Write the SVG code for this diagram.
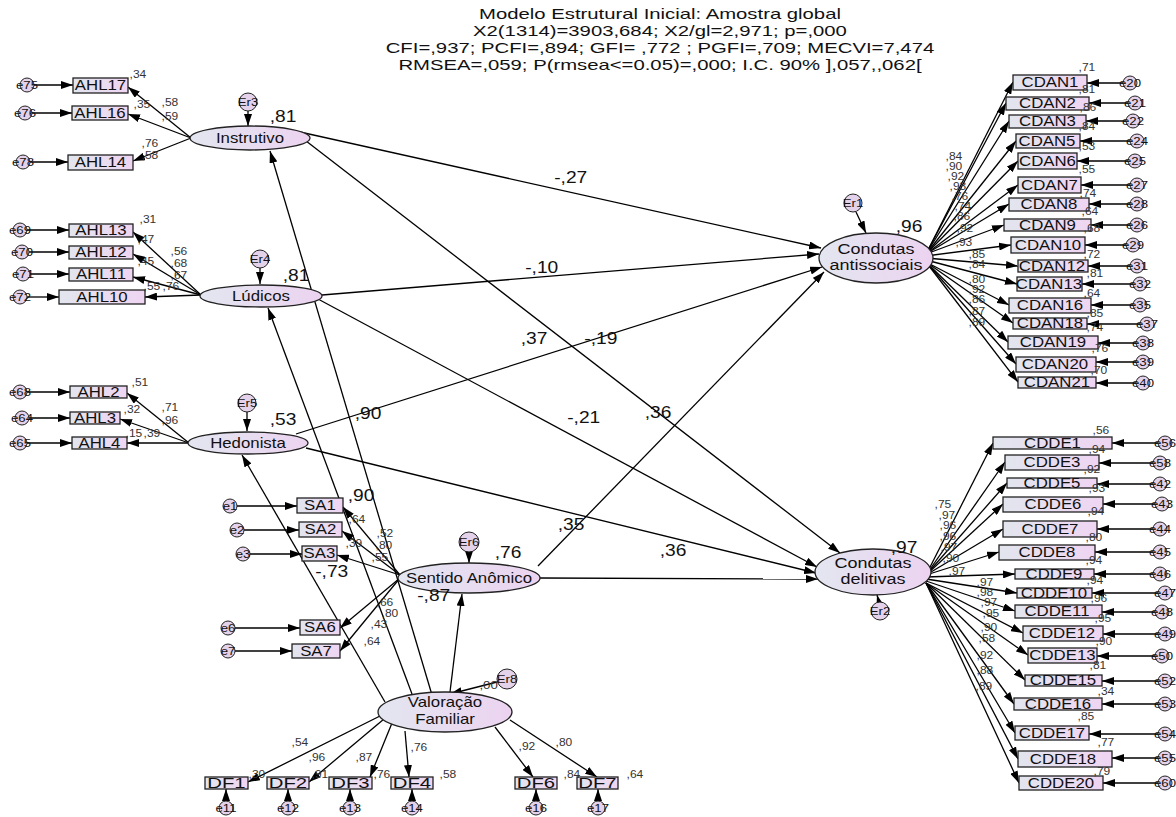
<svg xmlns="http://www.w3.org/2000/svg" width="1176" height="817" viewBox="0 0 1176 817">
<defs>
<linearGradient id="gb" x1="0" y1="0" x2="1" y2="0"><stop offset="0" stop-color="#e2e5ee"/><stop offset="1" stop-color="#efd5f2"/></linearGradient>
<linearGradient id="gl" x1="0" y1="0" x2="1" y2="0"><stop offset="0" stop-color="#e3e6f0"/><stop offset="1" stop-color="#ecd3f0"/></linearGradient>
<marker id="ah" markerUnits="userSpaceOnUse" markerWidth="12" markerHeight="8" refX="12" refY="4" orient="auto"><path d="M0,0 L12,4 L0,8 z" fill="#000"/></marker>
<style>
text{font-family:"Liberation Sans",Arial,sans-serif;fill:#111;transform-box:fill-box;transform-origin:center;transform:scaleX(1.2)}
.box{fill:url(#gb);stroke:#222;stroke-width:1.3}
.lat{fill:url(#gl);stroke:#222;stroke-width:1.3}
.err{fill:#e4d2ea;stroke:#222;stroke-width:1}
.ln{stroke:#000;stroke-width:1.3;fill:none;marker-end:url(#ah)}
.bt{font-size:14px;text-anchor:middle}
.df{font-size:14px;text-anchor:middle;transform:scaleX(1.45)}
.lt{font-size:14px;text-anchor:middle}
.lt15{font-size:15px;text-anchor:middle}
.et{font-size:11px;text-anchor:middle}
.ld{font-size:10px;fill:#333}
.cf{font-size:16px}
.ti{font-size:14.5px;text-anchor:middle;transform:scaleX(1.4)}
</style>
</defs>
<rect width="1176" height="817" fill="#fff"/>
<g id="title">
<text class="ti" x="660" y="19">Modelo Estrutural Inicial: Amostra global</text>
<text class="ti" x="660" y="36">X2(1314)=3903,684; X2/gl=2,971; p=,000</text>
<text class="ti" x="660" y="53">CFI=,937; PCFI=,894; GFI= ,772 ; PGFI=,709; MECVI=7,474</text>
<text class="ti" x="660" y="70">RMSEA=,059; P(rmsea&lt;=0.05)=,000; I.C. 90% ],057,,062[</text>
</g>
<g id="connectors">
<line class="ln" x1="34" y1="85" x2="73" y2="85"/>
<line class="ln" x1="32" y1="113" x2="72" y2="113"/>
<line class="ln" x1="30" y1="162" x2="68" y2="162"/>
<line class="ln" x1="27" y1="230" x2="69" y2="230"/>
<line class="ln" x1="29" y1="252" x2="69" y2="252"/>
<line class="ln" x1="30" y1="274" x2="69" y2="274"/>
<line class="ln" x1="27" y1="297" x2="59" y2="297"/>
<line class="ln" x1="27" y1="392" x2="70" y2="392"/>
<line class="ln" x1="29" y1="418" x2="70" y2="418"/>
<line class="ln" x1="27" y1="443" x2="72" y2="443"/>
<line class="ln" x1="191" y1="138" x2="128" y2="87"/>
<line class="ln" x1="191" y1="138" x2="128" y2="114"/>
<line class="ln" x1="191" y1="138" x2="133" y2="161"/>
<line class="ln" x1="201" y1="295" x2="133" y2="232"/>
<line class="ln" x1="201" y1="295" x2="133" y2="254"/>
<line class="ln" x1="201" y1="295" x2="133" y2="277"/>
<line class="ln" x1="201" y1="295" x2="145" y2="297"/>
<line class="ln" x1="189" y1="443" x2="127" y2="393"/>
<line class="ln" x1="189" y1="443" x2="120" y2="419"/>
<line class="ln" x1="189" y1="443" x2="127" y2="443"/>
<line class="ln" x1="248" y1="111" x2="248" y2="126"/>
<line class="ln" x1="260" y1="268" x2="260" y2="284"/>
<line class="ln" x1="247" y1="412" x2="247" y2="431"/>
<line class="ln" x1="469" y1="552" x2="469" y2="563"/>
<line class="ln" x1="856" y1="212" x2="866" y2="233"/>
<line class="ln" x1="879" y1="602" x2="877" y2="595"/>
<line class="ln" x1="497" y1="682" x2="450" y2="694"/>
<line class="ln" x1="300" y1="132" x2="821" y2="248"/>
<line class="ln" x1="297" y1="134" x2="840" y2="553"/>
<line class="ln" x1="322" y1="295" x2="819" y2="254"/>
<line class="ln" x1="318" y1="299" x2="817" y2="567"/>
<line class="ln" x1="296" y1="434" x2="822" y2="267"/>
<line class="ln" x1="306" y1="448" x2="816" y2="573"/>
<line class="ln" x1="540" y1="578" x2="818" y2="579"/>
<line class="ln" x1="538" y1="566" x2="824" y2="272"/>
<line class="ln" x1="432" y1="695" x2="270" y2="151"/>
<line class="ln" x1="412" y1="694" x2="268" y2="308"/>
<line class="ln" x1="385" y1="702" x2="242" y2="455"/>
<line class="ln" x1="450" y1="692" x2="462" y2="594"/>
<line class="ln" x1="400" y1="575" x2="343" y2="507"/>
<line class="ln" x1="400" y1="575" x2="342" y2="531"/>
<line class="ln" x1="400" y1="575" x2="337" y2="555"/>
<line class="ln" x1="400" y1="578" x2="340" y2="628"/>
<line class="ln" x1="400" y1="578" x2="340" y2="651"/>
<line class="ln" x1="237" y1="506" x2="297" y2="506"/>
<line class="ln" x1="244" y1="530" x2="299" y2="530"/>
<line class="ln" x1="250" y1="554" x2="302" y2="554"/>
<line class="ln" x1="235" y1="628" x2="300" y2="628"/>
<line class="ln" x1="235" y1="651" x2="292" y2="651"/>
<line class="ln" x1="380" y1="716" x2="248" y2="782"/>
<line class="ln" x1="384" y1="719" x2="309" y2="782"/>
<line class="ln" x1="392" y1="723" x2="370" y2="777"/>
<line class="ln" x1="405" y1="731" x2="409" y2="777"/>
<line class="ln" x1="495" y1="727" x2="533" y2="777"/>
<line class="ln" x1="510" y1="720" x2="597" y2="777"/>
<line class="ln" x1="226" y1="801" x2="226" y2="789"/>
<line class="ln" x1="288" y1="801" x2="288" y2="789"/>
<line class="ln" x1="350" y1="801" x2="350" y2="789"/>
<line class="ln" x1="412" y1="801" x2="412" y2="789"/>
<line class="ln" x1="536" y1="801" x2="536" y2="789"/>
<line class="ln" x1="598" y1="801" x2="598" y2="789"/>
<line class="ln" x1="926" y1="254" x2="1013" y2="82"/>
<line class="ln" x1="926" y1="254" x2="1006" y2="103"/>
<line class="ln" x1="926" y1="254" x2="1009" y2="121"/>
<line class="ln" x1="926" y1="254" x2="1016" y2="141"/>
<line class="ln" x1="926" y1="254" x2="1018" y2="161"/>
<line class="ln" x1="926" y1="254" x2="1018" y2="185"/>
<line class="ln" x1="926" y1="254" x2="1009" y2="204"/>
<line class="ln" x1="926" y1="254" x2="1004" y2="225"/>
<line class="ln" x1="926" y1="256" x2="1011" y2="245"/>
<line class="ln" x1="926" y1="258" x2="1018" y2="266"/>
<line class="ln" x1="926" y1="260" x2="1017" y2="284"/>
<line class="ln" x1="926" y1="262" x2="1009" y2="305"/>
<line class="ln" x1="926" y1="262" x2="1013" y2="323"/>
<line class="ln" x1="926" y1="262" x2="1008" y2="342"/>
<line class="ln" x1="926" y1="262" x2="1016" y2="364"/>
<line class="ln" x1="926" y1="262" x2="1018" y2="382"/>
<line class="ln" x1="1123" y1="83" x2="1087" y2="83"/>
<line class="ln" x1="1128" y1="103" x2="1089" y2="103"/>
<line class="ln" x1="1126" y1="121" x2="1086" y2="121"/>
<line class="ln" x1="1130" y1="141" x2="1080" y2="141"/>
<line class="ln" x1="1128" y1="161" x2="1077" y2="161"/>
<line class="ln" x1="1130" y1="185" x2="1081" y2="185"/>
<line class="ln" x1="1130" y1="204" x2="1089" y2="204"/>
<line class="ln" x1="1130" y1="225" x2="1091" y2="225"/>
<line class="ln" x1="1126" y1="245" x2="1085" y2="245"/>
<line class="ln" x1="1130" y1="266" x2="1088" y2="266"/>
<line class="ln" x1="1133" y1="284" x2="1082" y2="284"/>
<line class="ln" x1="1133" y1="305" x2="1091" y2="305"/>
<line class="ln" x1="1140" y1="324" x2="1087" y2="324"/>
<line class="ln" x1="1136" y1="343" x2="1098" y2="343"/>
<line class="ln" x1="1136" y1="362" x2="1096" y2="362"/>
<line class="ln" x1="1136" y1="383" x2="1096" y2="383"/>
<line class="ln" x1="926" y1="575" x2="993" y2="443"/>
<line class="ln" x1="926" y1="575" x2="1005" y2="462"/>
<line class="ln" x1="926" y1="575" x2="1007" y2="483"/>
<line class="ln" x1="926" y1="575" x2="1003" y2="504"/>
<line class="ln" x1="926" y1="575" x2="1003" y2="529"/>
<line class="ln" x1="926" y1="575" x2="999" y2="552"/>
<line class="ln" x1="926" y1="577" x2="1015" y2="574"/>
<line class="ln" x1="926" y1="579" x2="1017" y2="593"/>
<line class="ln" x1="926" y1="581" x2="1015" y2="611"/>
<line class="ln" x1="926" y1="583" x2="1023" y2="633"/>
<line class="ln" x1="926" y1="583" x2="1028" y2="655"/>
<line class="ln" x1="926" y1="583" x2="1025" y2="680"/>
<line class="ln" x1="926" y1="583" x2="1014" y2="704"/>
<line class="ln" x1="926" y1="583" x2="1015" y2="733"/>
<line class="ln" x1="926" y1="583" x2="1018" y2="759"/>
<line class="ln" x1="926" y1="583" x2="1019" y2="783"/>
<line class="ln" x1="1158" y1="443" x2="1112" y2="443"/>
<line class="ln" x1="1153" y1="463" x2="1099" y2="463"/>
<line class="ln" x1="1153" y1="484" x2="1097" y2="484"/>
<line class="ln" x1="1155" y1="504" x2="1103" y2="504"/>
<line class="ln" x1="1153" y1="529" x2="1097" y2="529"/>
<line class="ln" x1="1153" y1="552" x2="1095" y2="552"/>
<line class="ln" x1="1153" y1="574" x2="1094" y2="574"/>
<line class="ln" x1="1158" y1="593" x2="1092" y2="593"/>
<line class="ln" x1="1155" y1="612" x2="1102" y2="612"/>
<line class="ln" x1="1158" y1="634" x2="1103" y2="634"/>
<line class="ln" x1="1155" y1="656" x2="1097" y2="656"/>
<line class="ln" x1="1158" y1="681" x2="1102" y2="681"/>
<line class="ln" x1="1158" y1="704" x2="1102" y2="704"/>
<line class="ln" x1="1158" y1="734" x2="1089" y2="734"/>
<line class="ln" x1="1158" y1="758" x2="1112" y2="758"/>
<line class="ln" x1="1158" y1="783" x2="1103" y2="783"/>
</g>
<g id="Instrutivo"><ellipse class="lat" cx="250" cy="138" rx="60" ry="12"/><text class="lt" x="250" y="143">Instrutivo</text></g>
<g id="Ludicos"><ellipse class="lat" cx="261" cy="296" rx="61" ry="11"/><text class="lt" x="261" y="301">Lúdicos</text></g>
<g id="Hedonista"><ellipse class="lat" cx="248" cy="443" rx="60" ry="11"/><text class="lt" x="248" y="448">Hedonista</text></g>
<g id="SentidoAnomico"><ellipse class="lat" cx="469" cy="578" rx="71" ry="15"/><text class="lt" x="469" y="583">Sentido Anômico</text></g>
<g id="ValoracaoFamiliar"><ellipse class="lat" cx="445" cy="712" rx="67" ry="20"/><text class="lt" x="445" y="707">Valoração</text><text class="lt" x="445" y="724">Familiar</text></g>
<g id="CondutasAntissociais"><ellipse class="lat" cx="876" cy="258" rx="57" ry="25"/><text class="lt15" x="876" y="254">Condutas</text><text class="lt15" x="876" y="270">antissociais</text></g>
<g id="CondutasDelitivas"><ellipse class="lat" cx="873" cy="572" rx="58" ry="23"/><text class="lt15" x="873" y="568">Condutas</text><text class="lt15" x="873" y="584">delitivas</text></g>
<g id="Er3"><circle class="err" cx="248" cy="102" r="9"/><text class="et" x="248" y="106">Er3</text></g>
<g id="Er4"><circle class="err" cx="260" cy="259" r="9"/><text class="et" x="260" y="263">Er4</text></g>
<g id="Er5"><circle class="err" cx="247" cy="403" r="9"/><text class="et" x="247" y="407">Er5</text></g>
<g id="Er6"><circle class="err" cx="469" cy="542" r="10"/><text class="et" x="469" y="546">Er6</text></g>
<g id="Er1"><circle class="err" cx="853" cy="203" r="9"/><text class="et" x="853" y="207">Er1</text></g>
<g id="Er2"><circle class="err" cx="880" cy="611" r="9"/><text class="et" x="880" y="615">Er2</text></g>
<g id="Er8"><circle class="err" cx="507" cy="679" r="10"/><text class="et" x="507" y="683">Er8</text></g>
<g id="AHL17"><rect class="box" x="73" y="78" width="55" height="15"/><text class="bt" x="100.5" y="90">AHL17</text></g>
<g id="AHL16"><rect class="box" x="72" y="106" width="56" height="14"/><text class="bt" x="100" y="118">AHL16</text></g>
<g id="AHL14"><rect class="box" x="68" y="155" width="65" height="15"/><text class="bt" x="100.5" y="167">AHL14</text></g>
<g id="AHL13"><rect class="box" x="69" y="224" width="64" height="13"/><text class="bt" x="101" y="235">AHL13</text></g>
<g id="AHL12"><rect class="box" x="69" y="246" width="64" height="13"/><text class="bt" x="101" y="257">AHL12</text></g>
<g id="AHL11"><rect class="box" x="69" y="268" width="64" height="13"/><text class="bt" x="101" y="279">AHL11</text></g>
<g id="AHL10"><rect class="box" x="59" y="290" width="86" height="14"/><text class="bt" x="102" y="302">AHL10</text></g>
<g id="AHL2"><rect class="box" x="70" y="386" width="57" height="12"/><text class="bt" x="98.5" y="397">AHL2</text></g>
<g id="AHL3"><rect class="box" x="70" y="412" width="50" height="12"/><text class="bt" x="95" y="423">AHL3</text></g>
<g id="AHL4"><rect class="box" x="72" y="437" width="55" height="12"/><text class="bt" x="99.5" y="448">AHL4</text></g>
<g id="e75"><circle class="err" cx="27" cy="85" r="7"/><text class="et" x="27" y="89">e75</text></g>
<g id="e76"><circle class="err" cx="25" cy="113" r="7"/><text class="et" x="25" y="117">e76</text></g>
<g id="e78"><circle class="err" cx="23" cy="162" r="7"/><text class="et" x="23" y="166">e78</text></g>
<g id="e69"><circle class="err" cx="20" cy="230" r="7"/><text class="et" x="20" y="234">e69</text></g>
<g id="e70"><circle class="err" cx="22" cy="252" r="7"/><text class="et" x="22" y="256">e70</text></g>
<g id="e71"><circle class="err" cx="23" cy="274" r="7"/><text class="et" x="23" y="278">e71</text></g>
<g id="e72"><circle class="err" cx="20" cy="297" r="7"/><text class="et" x="20" y="301">e72</text></g>
<g id="e68"><circle class="err" cx="20" cy="392" r="7"/><text class="et" x="20" y="396">e68</text></g>
<g id="e64"><circle class="err" cx="22" cy="418" r="7"/><text class="et" x="22" y="422">e64</text></g>
<g id="e65"><circle class="err" cx="20" cy="443" r="7"/><text class="et" x="20" y="447">e65</text></g>
<g id="SA1"><rect class="box" x="297" y="498" width="46" height="15"/><text class="bt" x="320" y="510">SA1</text></g>
<g id="SA2"><rect class="box" x="299" y="522" width="43" height="15"/><text class="bt" x="320.5" y="534">SA2</text></g>
<g id="SA3"><rect class="box" x="302" y="546" width="35" height="15"/><text class="bt" x="319.5" y="558">SA3</text></g>
<g id="SA6"><rect class="box" x="300" y="620" width="40" height="15"/><text class="bt" x="320" y="632">SA6</text></g>
<g id="SA7"><rect class="box" x="292" y="644" width="48" height="14"/><text class="bt" x="316" y="656">SA7</text></g>
<g id="e1"><circle class="err" cx="230" cy="506" r="7"/><text class="et" x="230" y="510">e1</text></g>
<g id="e2"><circle class="err" cx="237" cy="530" r="7"/><text class="et" x="237" y="534">e2</text></g>
<g id="e3"><circle class="err" cx="243" cy="554" r="7"/><text class="et" x="243" y="558">e3</text></g>
<g id="e6"><circle class="err" cx="228" cy="628" r="7"/><text class="et" x="228" y="632">e6</text></g>
<g id="e7"><circle class="err" cx="228" cy="651" r="7"/><text class="et" x="228" y="655">e7</text></g>
<g id="DF1"><rect class="box" x="205" y="777" width="43" height="12"/><text class="df" x="226.5" y="788">DF1</text></g>
<g id="DF2"><rect class="box" x="267" y="777" width="42" height="12"/><text class="df" x="288" y="788">DF2</text></g>
<g id="DF3"><rect class="box" x="329" y="777" width="43" height="12"/><text class="df" x="350.5" y="788">DF3</text></g>
<g id="DF4"><rect class="box" x="391" y="777" width="42" height="12"/><text class="df" x="412" y="788">DF4</text></g>
<g id="DF6"><rect class="box" x="515" y="777" width="42" height="12"/><text class="df" x="536" y="788">DF6</text></g>
<g id="DF7"><rect class="box" x="577" y="777" width="41" height="12"/><text class="df" x="597.5" y="788">DF7</text></g>
<g id="e11"><circle class="err" cx="226" cy="808" r="7"/><text class="et" x="226" y="812">e11</text></g>
<g id="e12"><circle class="err" cx="288" cy="808" r="7"/><text class="et" x="288" y="812">e12</text></g>
<g id="e13"><circle class="err" cx="350" cy="808" r="7"/><text class="et" x="350" y="812">e13</text></g>
<g id="e14"><circle class="err" cx="412" cy="808" r="7"/><text class="et" x="412" y="812">e14</text></g>
<g id="e16"><circle class="err" cx="536" cy="808" r="7"/><text class="et" x="536" y="812">e16</text></g>
<g id="e17"><circle class="err" cx="598" cy="808" r="7"/><text class="et" x="598" y="812">e17</text></g>
<g id="CDAN1"><rect class="box" x="1013" y="75" width="74" height="15"/><text class="bt" x="1050" y="87">CDAN1</text></g>
<g id="CDAN2"><rect class="box" x="1006" y="97" width="83" height="13"/><text class="bt" x="1047.5" y="108">CDAN2</text></g>
<g id="CDAN3"><rect class="box" x="1009" y="115" width="77" height="13"/><text class="bt" x="1047.5" y="126">CDAN3</text></g>
<g id="CDAN5"><rect class="box" x="1016" y="134" width="64" height="14"/><text class="bt" x="1047" y="146">CDAN5</text></g>
<g id="CDAN6"><rect class="box" x="1018" y="153" width="59" height="16"/><text class="bt" x="1047.5" y="166">CDAN6</text></g>
<g id="CDAN7"><rect class="box" x="1018" y="177" width="63" height="16"/><text class="bt" x="1049.5" y="190">CDAN7</text></g>
<g id="CDAN8"><rect class="box" x="1009" y="198" width="80" height="13"/><text class="bt" x="1049" y="209">CDAN8</text></g>
<g id="CDAN9"><rect class="box" x="1004" y="219" width="87" height="12"/><text class="bt" x="1047.5" y="230">CDAN9</text></g>
<g id="CDAN10"><rect class="box" x="1011" y="237" width="74" height="16"/><text class="bt" x="1048" y="250">CDAN10</text></g>
<g id="CDAN12"><rect class="box" x="1018" y="260" width="70" height="12"/><text class="bt" x="1052" y="271">CDAN12</text></g>
<g id="CDAN13"><rect class="box" x="1017" y="277" width="65" height="14"/><text class="bt" x="1049" y="289">CDAN13</text></g>
<g id="CDAN16"><rect class="box" x="1009" y="298" width="82" height="15"/><text class="bt" x="1050" y="310">CDAN16</text></g>
<g id="CDAN18"><rect class="box" x="1013" y="318" width="74" height="11"/><text class="bt" x="1050" y="328">CDAN18</text></g>
<g id="CDAN19"><rect class="box" x="1008" y="336" width="90" height="13"/><text class="bt" x="1053" y="347">CDAN19</text></g>
<g id="CDAN20"><rect class="box" x="1016" y="357" width="80" height="15"/><text class="bt" x="1055" y="369">CDAN20</text></g>
<g id="CDAN21"><rect class="box" x="1018" y="377" width="78" height="11"/><text class="bt" x="1057" y="387">CDAN21</text></g>
<g id="e20"><circle class="err" cx="1130" cy="83" r="7"/><text class="et" x="1130" y="87">e20</text></g>
<g id="e21"><circle class="err" cx="1135" cy="103" r="7"/><text class="et" x="1135" y="107">e21</text></g>
<g id="e22"><circle class="err" cx="1133" cy="121" r="7"/><text class="et" x="1133" y="125">e22</text></g>
<g id="e24"><circle class="err" cx="1137" cy="141" r="7"/><text class="et" x="1137" y="145">e24</text></g>
<g id="e25"><circle class="err" cx="1135" cy="161" r="7"/><text class="et" x="1135" y="165">e25</text></g>
<g id="e27"><circle class="err" cx="1137" cy="185" r="7"/><text class="et" x="1137" y="189">e27</text></g>
<g id="e28"><circle class="err" cx="1137" cy="204" r="7"/><text class="et" x="1137" y="208">e28</text></g>
<g id="e26"><circle class="err" cx="1137" cy="225" r="7"/><text class="et" x="1137" y="229">e26</text></g>
<g id="e29"><circle class="err" cx="1133" cy="245" r="7"/><text class="et" x="1133" y="249">e29</text></g>
<g id="e31"><circle class="err" cx="1137" cy="266" r="7"/><text class="et" x="1137" y="270">e31</text></g>
<g id="e32"><circle class="err" cx="1140" cy="284" r="7"/><text class="et" x="1140" y="288">e32</text></g>
<g id="e35"><circle class="err" cx="1140" cy="305" r="7"/><text class="et" x="1140" y="309">e35</text></g>
<g id="e37"><circle class="err" cx="1147" cy="324" r="7"/><text class="et" x="1147" y="328">e37</text></g>
<g id="e38"><circle class="err" cx="1143" cy="343" r="7"/><text class="et" x="1143" y="347">e38</text></g>
<g id="e39"><circle class="err" cx="1143" cy="362" r="7"/><text class="et" x="1143" y="366">e39</text></g>
<g id="e40"><circle class="err" cx="1143" cy="383" r="7"/><text class="et" x="1143" y="387">e40</text></g>
<g id="CDDE1"><rect class="box" x="993" y="437" width="119" height="12"/><text class="bt" x="1052.5" y="448">CDDE1</text></g>
<g id="CDDE3"><rect class="box" x="1005" y="455" width="94" height="15"/><text class="bt" x="1052" y="467">CDDE3</text></g>
<g id="CDDE5"><rect class="box" x="1007" y="478" width="90" height="10"/><text class="bt" x="1052" y="488">CDDE5</text></g>
<g id="CDDE6"><rect class="box" x="1003" y="497" width="100" height="15"/><text class="bt" x="1053" y="509">CDDE6</text></g>
<g id="CDDE7"><rect class="box" x="1003" y="521" width="94" height="16"/><text class="bt" x="1050" y="534">CDDE7</text></g>
<g id="CDDE8"><rect class="box" x="999" y="545" width="96" height="15"/><text class="bt" x="1047" y="557">CDDE8</text></g>
<g id="CDDE9"><rect class="box" x="1015" y="569" width="79" height="10"/><text class="bt" x="1054" y="579">CDDE9</text></g>
<g id="CDDE10"><rect class="box" x="1017" y="588" width="75" height="10"/><text class="bt" x="1054" y="598">CDDE10</text></g>
<g id="CDDE11"><rect class="box" x="1015" y="605" width="87" height="13"/><text class="bt" x="1057" y="616">CDDE11</text></g>
<g id="CDDE12"><rect class="box" x="1023" y="626" width="80" height="15"/><text class="bt" x="1062" y="638">CDDE12</text></g>
<g id="CDDE13"><rect class="box" x="1028" y="648" width="69" height="15"/><text class="bt" x="1062.5" y="660">CDDE13</text></g>
<g id="CDDE15"><rect class="box" x="1025" y="675" width="77" height="11"/><text class="bt" x="1063" y="685">CDDE15</text></g>
<g id="CDDE16"><rect class="box" x="1014" y="698" width="88" height="12"/><text class="bt" x="1058" y="709">CDDE16</text></g>
<g id="CDDE17"><rect class="box" x="1015" y="726" width="74" height="14"/><text class="bt" x="1052" y="738">CDDE17</text></g>
<g id="CDDE18"><rect class="box" x="1018" y="751" width="94" height="16"/><text class="bt" x="1063" y="764">CDDE18</text></g>
<g id="CDDE20"><rect class="box" x="1019" y="776" width="84" height="14"/><text class="bt" x="1061" y="788">CDDE20</text></g>
<g id="e56"><circle class="err" cx="1165" cy="443" r="7"/><text class="et" x="1165" y="447">e56</text></g>
<g id="e58"><circle class="err" cx="1160" cy="463" r="7"/><text class="et" x="1160" y="467">e58</text></g>
<g id="e42"><circle class="err" cx="1160" cy="484" r="7"/><text class="et" x="1160" y="488">e42</text></g>
<g id="e43"><circle class="err" cx="1162" cy="504" r="7"/><text class="et" x="1162" y="508">e43</text></g>
<g id="e44"><circle class="err" cx="1160" cy="529" r="7"/><text class="et" x="1160" y="533">e44</text></g>
<g id="e45"><circle class="err" cx="1160" cy="552" r="7"/><text class="et" x="1160" y="556">e45</text></g>
<g id="e46"><circle class="err" cx="1160" cy="574" r="7"/><text class="et" x="1160" y="578">e46</text></g>
<g id="e47"><circle class="err" cx="1165" cy="593" r="7"/><text class="et" x="1165" y="597">e47</text></g>
<g id="e48"><circle class="err" cx="1162" cy="612" r="7"/><text class="et" x="1162" y="616">e48</text></g>
<g id="e49"><circle class="err" cx="1165" cy="634" r="7"/><text class="et" x="1165" y="638">e49</text></g>
<g id="e50"><circle class="err" cx="1162" cy="656" r="7"/><text class="et" x="1162" y="660">e50</text></g>
<g id="e52"><circle class="err" cx="1165" cy="681" r="7"/><text class="et" x="1165" y="685">e52</text></g>
<g id="e53"><circle class="err" cx="1165" cy="704" r="7"/><text class="et" x="1165" y="708">e53</text></g>
<g id="e54"><circle class="err" cx="1165" cy="734" r="7"/><text class="et" x="1165" y="738">e54</text></g>
<g id="e55"><circle class="err" cx="1165" cy="758" r="7"/><text class="et" x="1165" y="762">e55</text></g>
<g id="e60"><circle class="err" cx="1165" cy="783" r="7"/><text class="et" x="1165" y="787">e60</text></g>
<g id="coefficients">
<text class="cf" x="272" y="122">,81</text>
<text class="cf" x="285" y="281">,81</text>
<text class="cf" x="272" y="425">,53</text>
<text class="cf" x="497" y="558">,76</text>
<text class="cf" x="898" y="232">,96</text>
<text class="cf" x="893" y="553">,97</text>
<text class="cf" x="557" y="183">-,27</text>
<text class="cf" x="528" y="273">-,10</text>
<text class="cf" x="523" y="344">,37</text>
<text class="cf" x="587" y="344">-,19</text>
<text class="cf" x="357" y="419">,90</text>
<text class="cf" x="570" y="423">-,21</text>
<text class="cf" x="647" y="418">,36</text>
<text class="cf" x="560" y="530">,35</text>
<text class="cf" x="662" y="556">,36</text>
<text class="cf" x="350" y="501">,90</text>
<text class="cf" x="318" y="577">-,73</text>
<text class="cf" x="420" y="601">-,87</text>
<text class="ld" x="481" y="689" style="font-size:11px">,00</text>
</g>
<g id="loadings">
<text class="ld" x="131" y="78">,34</text><text class="ld" x="135" y="108">,35</text><text class="ld" x="163" y="106">,58</text><text class="ld" x="163" y="120">,59</text><text class="ld" x="143" y="147">,76</text><text class="ld" x="143" y="159">,58</text>
<text class="ld" x="141" y="223">,31</text><text class="ld" x="139" y="243">,47</text><text class="ld" x="172" y="255">,56</text><text class="ld" x="172" y="267">,68</text><text class="ld" x="139" y="265">,45</text><text class="ld" x="172" y="279">,67</text><text class="ld" x="145" y="290">,55</text><text class="ld" x="164" y="290">,76</text>
<text class="ld" x="133" y="386">,51</text><text class="ld" x="163" y="411">,71</text><text class="ld" x="125" y="413">,32</text><text class="ld" x="163" y="424">,96</text><text class="ld" x="127" y="437">,15</text><text class="ld" x="145" y="437">,39</text>
<text class="ld" x="350" y="523">,64</text><text class="ld" x="378" y="537">,52</text><text class="ld" x="347" y="547">,39</text><text class="ld" x="377" y="549">,80</text><text class="ld" x="373" y="561">,55</text>
<text class="ld" x="378" y="606">,66</text><text class="ld" x="383" y="617">,80</text><text class="ld" x="372" y="628">,43</text><text class="ld" x="365" y="645">,64</text>
<text class="ld" x="293" y="746">,54</text><text class="ld" x="310" y="761">,96</text><text class="ld" x="357" y="761">,87</text><text class="ld" x="412" y="751">,76</text><text class="ld" x="520" y="750">,92</text><text class="ld" x="557" y="746">,80</text>
<text class="ld" x="250" y="778">,30</text><text class="ld" x="313" y="778">,91</text><text class="ld" x="375" y="778">,76</text><text class="ld" x="441" y="778">,58</text><text class="ld" x="565" y="778">,84</text><text class="ld" x="628" y="778">,64</text>
<text class="ld" x="1080" y="71">,71</text><text class="ld" x="1080" y="93">,81</text><text class="ld" x="1081" y="111">,86</text><text class="ld" x="1080" y="130">,84</text><text class="ld" x="1080" y="150">,53</text><text class="ld" x="1080" y="173">,55</text><text class="ld" x="1081" y="197">,74</text><text class="ld" x="1083" y="215">,64</text><text class="ld" x="1085" y="232">,68</text><text class="ld" x="1085" y="258">,72</text><text class="ld" x="1088" y="277">,81</text><text class="ld" x="1085" y="297">,64</text><text class="ld" x="1088" y="317">,85</text><text class="ld" x="1088" y="331">,74</text><text class="ld" x="1093" y="352">,76</text><text class="ld" x="1092" y="374">,70</text>
<text class="ld" x="947" y="160">,84</text><text class="ld" x="947" y="170">,90</text><text class="ld" x="949" y="180">,92</text><text class="ld" x="951" y="190">,93</text><text class="ld" x="953" y="200">,76</text><text class="ld" x="956" y="210">,74</text><text class="ld" x="955" y="220">,86</text><text class="ld" x="958" y="232">,92</text>
<text class="ld" x="957" y="246">,93</text><text class="ld" x="970" y="258">,85</text><text class="ld" x="970" y="268">,84</text><text class="ld" x="970" y="283">,80</text><text class="ld" x="970" y="293">,92</text><text class="ld" x="970" y="303">,86</text><text class="ld" x="970" y="315">,87</text><text class="ld" x="970" y="326">,89</text>
<text class="ld" x="1094" y="434">,56</text><text class="ld" x="1090" y="453">,94</text><text class="ld" x="1085" y="473">,92</text><text class="ld" x="1090" y="492">,93</text><text class="ld" x="1089" y="515">,94</text><text class="ld" x="1087" y="541">,80</text><text class="ld" x="1087" y="564">,94</text><text class="ld" x="1088" y="584">,94</text><text class="ld" x="1092" y="602">,96</text><text class="ld" x="1096" y="622">,95</text><text class="ld" x="1097" y="645">,90</text><text class="ld" x="1091" y="669">,81</text><text class="ld" x="1099" y="695">,34</text><text class="ld" x="1079" y="720">,85</text><text class="ld" x="1099" y="746">,77</text><text class="ld" x="1095" y="775">,79</text>
<text class="ld" x="936" y="508">,75</text><text class="ld" x="940" y="519">,97</text><text class="ld" x="941" y="529">,96</text><text class="ld" x="941" y="540">,96</text><text class="ld" x="942" y="551">,97</text><text class="ld" x="944" y="562">,90</text><text class="ld" x="950" y="575">,97</text><text class="ld" x="978" y="586">,97</text><text class="ld" x="978" y="596">,98</text><text class="ld" x="982" y="606">,97</text><text class="ld" x="984" y="617">,95</text><text class="ld" x="982" y="631">,90</text><text class="ld" x="980" y="642">,58</text><text class="ld" x="978" y="659">,92</text><text class="ld" x="978" y="674">,88</text><text class="ld" x="977" y="690">,89</text>
</g>
</svg>
